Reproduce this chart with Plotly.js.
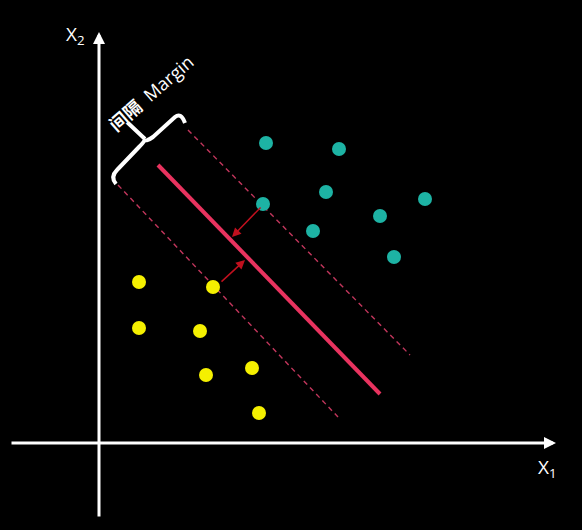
<!DOCTYPE html>
<html><head><meta charset="utf-8">
<script src="https://cdn.plot.ly/plotly-3.0.1.min.js"></script>
<style>html,body{margin:0;padding:0;background:#000;}</style>
</head><body><div id="chart" style="width:582px;height:530px;"></div>
<script>
// Class +1 (teal) points
const teal_x = [167, 240, 227, 164, 326, 281, 214, 295];
const teal_y = [300, 294, 251, 239, 244, 227, 212, 186];
// Class -1 (yellow) points
const yellow_x = [40, 114, 40, 101, 107, 153, 160];
const yellow_y = [161, 156, 115, 112, 68, 75, 30];
// Separating hyperplane and margin boundaries (end points)
const hyper_x = [59, 281];
const hyper_y = [278, 49];
const upper_x = [89, 311];
const upper_y = [313, 88];
const lower_x = [19, 239];
const lower_y = [258, 26];
// Support-vector distance arrows: [tail x, tail y, head x, head y]
const arrow_teal = [163, 237, 133, 206];
const arrow_yellow = [121, 160, 146, 183];
// Axis extents
const xaxis_line = [-89, 457];
const yaxis_line = [-75, 411];

const traces = [
  {x: upper_x, y: upper_y, mode: 'lines', line: {color: '#c2365c', width: 1.4, dash: '5px,4px'}, hoverinfo: 'skip'},
  {x: lower_x, y: lower_y, mode: 'lines', line: {color: '#c2365c', width: 1.4, dash: '5px,4px'}, hoverinfo: 'skip'},
  {x: hyper_x, y: hyper_y, mode: 'lines', line: {color: '#e8335f', width: 4}, hoverinfo: 'skip'},
  {x: teal_x, y: teal_y, mode: 'markers', marker: {color: '#1db3a4', size: 14}},
  {x: yellow_x, y: yellow_y, mode: 'markers', marker: {color: '#f5f000', size: 14}}
];

function arrow(tx, ty, hx, hy, color, width, size) {
  return {x: hx, y: hy, ax: tx, ay: ty, xref: 'x', yref: 'y', axref: 'x', ayref: 'y',
    showarrow: true, arrowhead: 2, arrowsize: size, arrowwidth: width, arrowcolor: color, text: ''};
}

const annotations = [
  arrow(xaxis_line[0], 0, xaxis_line[1], 0, '#ffffff', 3, 0.8),
  arrow(0, yaxis_line[0], 0, yaxis_line[1], '#ffffff', 3, 0.8),
  arrow(arrow_teal[0], arrow_teal[1], arrow_teal[2], arrow_teal[3], '#c0101e', 1.5, 1.2),
  arrow(arrow_yellow[0], arrow_yellow[1], arrow_yellow[2], arrow_yellow[3], '#c0101e', 1.5, 1.2),
  {x: -24, y: 408, xref: 'x', yref: 'y', showarrow: false, text: 'X<sub>2</sub>',
   font: {family: 'Open Sans, sans-serif', size: 19, color: '#ffffff'}},
  {x: 448, y: -25, xref: 'x', yref: 'y', showarrow: false, text: 'X<sub>1</sub>',
   font: {family: 'Open Sans, sans-serif', size: 19, color: '#ffffff'}},
  {x: 52, y: 350, xref: 'x', yref: 'y', showarrow: false, textangle: -41,
   text: '<b>间隔</b>  Margin',
   font: {family: 'Open Sans, Noto Sans CJK SC, sans-serif', size: 18, color: '#ffffff'}}
];

const shapes = [
  {type: 'path', xref: 'x', yref: 'y', line: {color: '#ffffff', width: 4},
   path: 'M17,259 Q11,266 18,273 L40,296 Q46,302 46,304 M46,304 L29,320 M46,304 Q47,301 54,306 L76,326 Q82,331 86,320'}
];

const layout = {
  width: 582, height: 530,
  margin: {l: 0, r: 0, t: 0, b: 0},
  paper_bgcolor: '#000000', plot_bgcolor: '#000000',
  showlegend: false,
  xaxis: {range: [-99, 483], visible: false, fixedrange: true},
  yaxis: {range: [-87, 443], visible: false, fixedrange: true},
  annotations: annotations,
  shapes: shapes
};

Plotly.newPlot('chart', traces, layout, {displayModeBar: false, staticPlot: true});
</script></body></html>
